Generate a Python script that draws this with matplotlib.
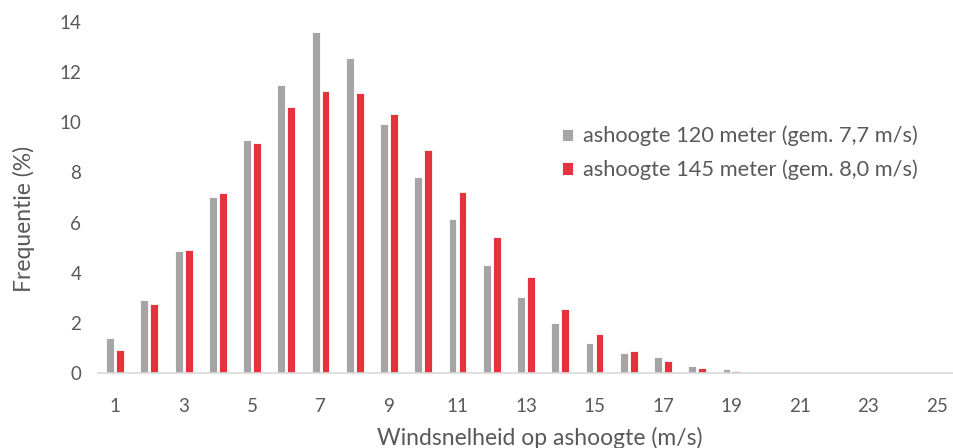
import matplotlib.pyplot as plt
import numpy as np

# wind speed classes (m/s)
speeds = list(range(1, 26))
freq_120 = [1.40, 2.92, 4.87, 7.02, 9.31, 11.50, 13.60, 12.58, 9.93, 7.83, 6.14, 4.31, 3.03, 2.01,
            1.20, 0.78, 0.64, 0.27, 0.16, 0.0, 0.0, 0.0, 0.0, 0.0, 0.0]
freq_145 = [0.93, 2.76, 4.92, 7.18, 9.16, 10.60, 11.26, 11.15, 10.33, 8.90, 7.22, 5.42, 3.84, 2.56,
            1.56, 0.89, 0.48, 0.21, 0.08, 0.0, 0.0, 0.0, 0.0, 0.0, 0.0]
label_120 = "ashoogte 120 meter (gem. 7,7 m/s)"
label_145 = "ashoogte 145 meter (gem. 8,0 m/s)"

grey = "#a5a5a5"
red = "#e6323c"
text_col = "#595959"

plt.rcParams['font.family'] = ['Lato', 'DejaVu Sans']

fig = plt.figure(figsize=(9.54, 4.48), dpi=100)
ax = fig.add_axes([98 / 954, 75 / 448, 856 / 954, 351 / 448])

x = np.arange(len(speeds))
w = 0.23
ax.bar(x - 0.145, freq_120, w, color=grey, edgecolor="white", linewidth=0.6, label=label_120)
ax.bar(x + 0.145, freq_145, w, color=red, edgecolor="white", linewidth=0.6, label=label_145)

ax.set_xlim(-0.5, len(speeds) - 0.5)
ax.set_ylim(0, 14)
ax.set_xticks(x[::2])
ax.set_xticklabels([str(s) for s in speeds[::2]])
ax.set_yticks(range(0, 15, 2))

for s in ["top", "right", "left"]:
    ax.spines[s].set_visible(False)
ax.spines["bottom"].set_color("#d9d9d9")
ax.spines["bottom"].set_linewidth(1.2)
ax.tick_params(axis="both", length=0, labelsize=13.5, colors=text_col)
ax.tick_params(axis="x", pad=18)
ax.tick_params(axis="y", pad=12)

ax.set_xlabel("Windsnelheid op ashoogte (m/s)", fontsize=16.5, color=text_col)
ax.set_ylabel("Frequentie (%)", fontsize=16.5, color=text_col)
ax.xaxis.set_label_coords(0.516, -0.155)
ax.yaxis.set_label_coords(-0.074, 0.44)

leg = fig.legend(loc="center left", bbox_to_anchor=(562 / 954, 295 / 448), frameon=False,
                 fontsize=15.7, borderpad=0, borderaxespad=0,
                 handlelength=0.5, handleheight=0.5, handletextpad=0.45, labelspacing=0.6,
                 labelcolor=text_col)

plt.savefig("out.png", dpi=100)
